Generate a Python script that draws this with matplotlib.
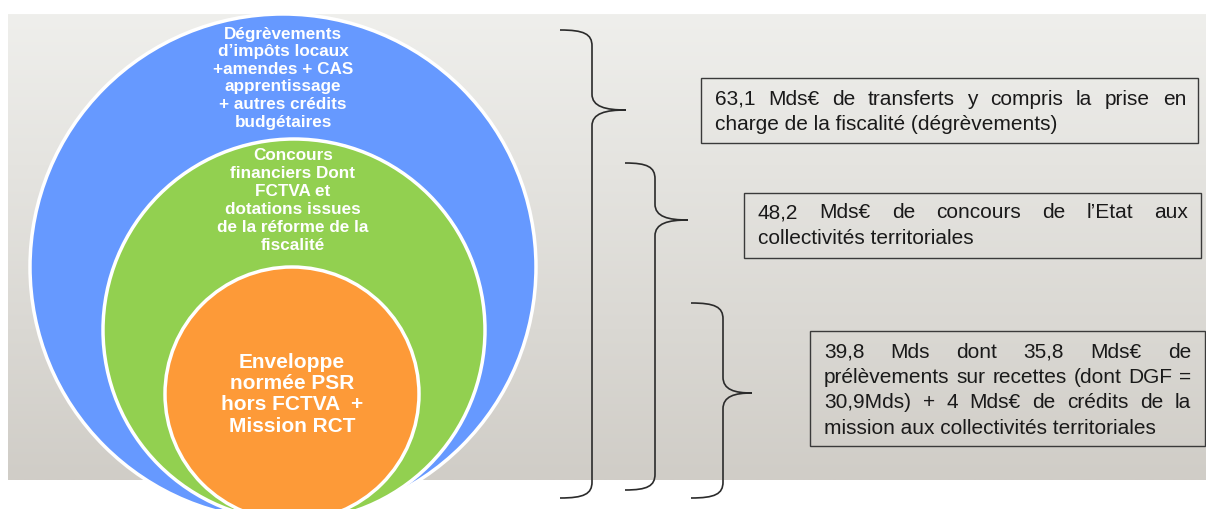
import matplotlib
matplotlib.use("Agg")
import matplotlib.pyplot as plt
import numpy as np
from matplotlib.patches import Circle, Rectangle, PathPatch
from matplotlib.path import Path

plt.rcParams['font.family'] = ['Liberation Sans', 'DejaVu Sans']

# labels inside the nested circles (outer -> inner)
circle_labels = [
    ["Dégrèvements", "d’impôts locaux", "+amendes + CAS", "apprentissage",
     "+ autres crédits", "budgétaires"],
    ["Concours", "financiers Dont", "FCTVA et", "dotations issues",
     "de la réforme de la", "fiscalité"],
    ["Enveloppe", "normée PSR", "hors FCTVA  +", "Mission RCT"],
]
circle_colors = ["#6699ff", "#92d050", "#fd9a38"]

# text of the boxes on the right (one line per entry)
box_texts = [
    ["63,1 Mds€ de transferts y compris la prise en",
     "charge de la fiscalité (dégrèvements)"],
    ["48,2 Mds€ de concours de l’Etat aux",
     "collectivités territoriales"],
    ["39,8 Mds dont 35,8 Mds€ de",
     "prélèvements sur recettes (dont DGF =",
     "30,9Mds) + 4 Mds€ de crédits de la",
     "mission aux collectivités territoriales"],
]

W, H = 1206, 509
fig = plt.figure(figsize=(W / 100, H / 100), dpi=100)
ax = fig.add_axes([0, 0, 1, 1])
ax.set_xlim(0, W)
ax.set_ylim(H, 0)
ax.axis("off")

# grey gradient background
grad = np.linspace(0, 1, 256)[:, None]
top = np.array([239, 239, 236]) / 255
bot = np.array([208, 205, 199]) / 255
img = top + (bot - top) * grad[..., None]
img = np.repeat(img, 2, axis=1)
ax.imshow(img, extent=[8, W, 480, 14], aspect="auto", zorder=0)

# nested circles (centre x, centre y, radius) in pixels
geom = [(283, 267, 253), (294, 330, 191), (292, 394, 127)]
for (cx, cy, r), c in zip(geom, circle_colors):
    ax.add_patch(Circle((cx, cy), r, facecolor=c, edgecolor="white",
                        lw=2.5, zorder=2))

def draw_lines(x, y0, lines, step, **kw):
    for i, s in enumerate(lines):
        ax.text(x, y0 + i * step, s, ha="center", va="center",
                color="white", fontweight="bold", zorder=3, **kw)

draw_lines(283, 34, circle_labels[0], 17.6, fontsize=12.3)
draw_lines(293, 155, circle_labels[1], 18.0, fontsize=12.3)
draw_lines(292, 362, circle_labels[2], 21.4, fontsize=15)

# curly braces
def brace(x0, xm, xt, y0, yt, y1, r=16):
    verts = [(x0, y0),
             (x0 + 0.75 * (xm - x0), y0), (xm, y0 + 0.25 * r), (xm, y0 + r),
             (xm, yt - r),
             (xm, yt - 0.2 * r), (xm + 0.4 * (xt - xm), yt), (xt, yt),
             (xm + 0.4 * (xt - xm), yt), (xm, yt + 0.2 * r), (xm, yt + r),
             (xm, y1 - r),
             (xm, y1 - 0.25 * r), (x0 + 0.75 * (xm - x0), y1), (x0, y1)]
    codes = [Path.MOVETO, Path.CURVE4, Path.CURVE4, Path.CURVE4, Path.LINETO,
             Path.CURVE4, Path.CURVE4, Path.CURVE4,
             Path.CURVE4, Path.CURVE4, Path.CURVE4, Path.LINETO,
             Path.CURVE4, Path.CURVE4, Path.CURVE4]
    ax.add_patch(PathPatch(Path(verts, codes), facecolor="none",
                           edgecolor="#2b2b2b", lw=1.2, zorder=3))

brace(560, 592, 626, 30, 110, 498)
brace(625, 655, 688, 163, 220, 490)
brace(691, 723, 752, 303, 393, 498)

# boxes with justified text
boxes = [(701, 78, 1198, 143, 715, 1186, 99, 25.5),
         (744, 193, 1201, 258, 758, 1188, 213, 26),
         (810, 331, 1205, 446, 824, 1191, 352, 25.4)]
fig.canvas.draw()
rend = fig.canvas.get_renderer()
fs = 15
for (bx0, by0, bx1, by1, tx0, tx1, ty0, step), lines in zip(boxes, box_texts):
    ax.add_patch(Rectangle((bx0, by0), bx1 - bx0, by1 - by0, facecolor="none",
                           edgecolor="#3a3a3a", lw=1.0, zorder=3))
    for i, line in enumerate(lines):
        y = ty0 + i * step
        if i == len(lines) - 1:
            ax.text(tx0, y, line, ha="left", va="center", fontsize=fs,
                    color="#1a1a1a", zorder=4)
            continue
        words = line.split()
        ts = [ax.text(0, y, w, ha="left", va="center", fontsize=fs,
                      color="#1a1a1a", zorder=4) for w in words]
        widths = [t.get_window_extent(rend).width for t in ts]
        gap = (tx1 - tx0 - sum(widths)) / (len(words) - 1)
        x = tx0
        for t, w in zip(ts, widths):
            t.set_x(x)
            x += w + gap

fig.savefig("out.png", dpi=100)
